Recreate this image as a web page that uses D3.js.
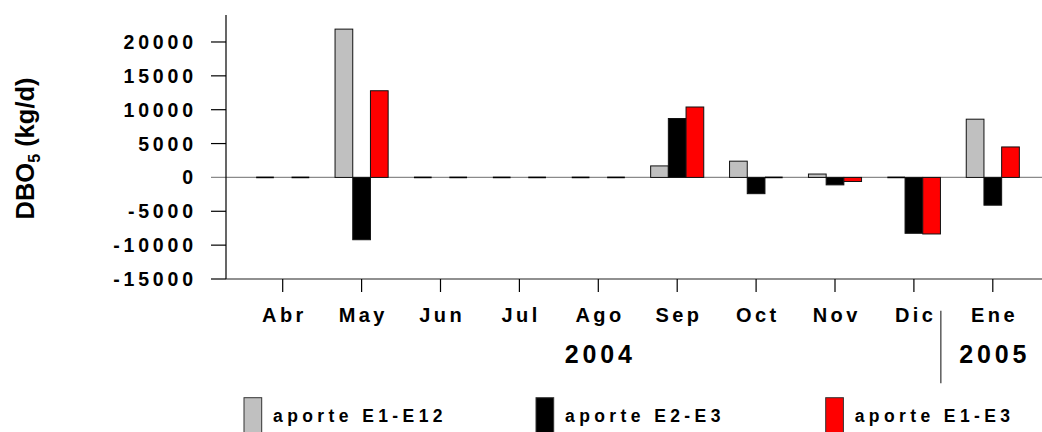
<!DOCTYPE html>
<html><head><meta charset="utf-8">
<script src="https://cdn.jsdelivr.net/npm/d3@7"></script>
<style>
html,body{margin:0;padding:0;background:#fff;}
text{font-family:"Liberation Sans",Arial,sans-serif;font-weight:bold;fill:#000;}
</style></head>
<body>
<svg id="chart" width="1042" height="432"></svg>
<script>
const months = ["Abr","May","Jun","Jul","Ago","Sep","Oct","Nov","Dic","Ene"];
const seriesNames = ["aporte E1-E12","aporte E2-E3","aporte E1-E3"];
const seriesColors = ["#c0c0c0","#000000","#ff0000"];
const e1e12 = [0, 21900, 0, 0, 0, 1700, 2400, 500, 0, 8600];
const e2e3  = [null, -9200, null, null, null, 8700, -2400, -1100, -8250, -4100];
const e1e3  = [0, 12800, 0, 0, 0, 10400, 0, -600, -8350, 4500];
const yTicks = [-15000,-10000,-5000,0,5000,10000,15000,20000];
const years = [{label:"2004", from:"Abr", to:"Dic"},{label:"2005", from:"Ene", to:"Ene"}];

const series = [e1e12, e2e3, e1e3];
const svg = d3.select("#chart");

const y = d3.scaleLinear().domain([-15000, 24000]).range([279, 14.9]);
const x = d3.scaleBand().domain(months).range([243.25, 1032.25]).padding(0);
const x1 = d3.scaleBand().domain(seriesNames).range([-26.55, 26.55]).padding(0);
const cx = m => x(m) + x.bandwidth()/2;

const axisLeft = 226;

// zero line
svg.append("line").attr("x1", 211).attr("x2", 1042)
  .attr("y1", y(0)).attr("y2", y(0))
  .attr("stroke", "#8a8a8a").attr("stroke-width", 1.2);

// bars
series.forEach((vals, si) => {
  const g = svg.append("g");
  months.forEach((m, i) => {
    const v = vals[i];
    if (v === null) return;
    const bx = cx(m) + x1(seriesNames[si]);
    const w = x1.bandwidth();
    if (v === 0) {
      g.append("line").attr("x1", bx).attr("x2", bx + w)
        .attr("y1", y(0)).attr("y2", y(0))
        .attr("stroke", "#000").attr("stroke-width", 1.6);
    } else {
      g.append("rect").attr("x", bx).attr("width", w)
        .attr("y", Math.min(y(v), y(0))).attr("height", Math.abs(y(v) - y(0)))
        .attr("fill", seriesColors[si]).attr("stroke", "#111").attr("stroke-width", 1);
    }
  });
});

// y axis
svg.append("line").attr("x1", axisLeft).attr("x2", axisLeft)
  .attr("y1", y.range()[1]).attr("y2", y.range()[0]).attr("stroke", "#000").attr("stroke-width", 1.2);
const LSY = 3.8;
yTicks.forEach(t => {
  if (t !== 0) svg.append("line").attr("x1", 211).attr("x2", axisLeft)
    .attr("y1", y(t)).attr("y2", y(t)).attr("stroke", "#000").attr("stroke-width", 1.2);
  svg.append("text").attr("x", 193 + LSY).attr("y", y(t)).attr("dy", "0.36em")
    .attr("text-anchor", "end").attr("font-size", 19.5).attr("letter-spacing", LSY)
    .text(t);
});

// x axis
svg.append("line").attr("x1", axisLeft).attr("x2", 1042)
  .attr("y1", y(-15000)).attr("y2", y(-15000)).attr("stroke", "#222").attr("stroke-width", 1.2);
const LSX = 3.4;
months.forEach(m => {
  svg.append("line").attr("x1", cx(m)).attr("x2", cx(m))
    .attr("y1", y(-15000)).attr("y2", y(-15000) + 13).attr("stroke", "#000").attr("stroke-width", 1.2);
  svg.append("text").attr("x", cx(m) + LSX/2).attr("y", 322)
    .attr("text-anchor", "middle").attr("font-size", 20).attr("letter-spacing", LSX)
    .text(m);
});

// years
years.forEach(yr => {
  const c = (cx(yr.from) + cx(yr.to)) / 2;
  svg.append("text").attr("x", c + 3.8/2).attr("y", 362.5)
    .attr("text-anchor", "middle").attr("font-size", 25).attr("letter-spacing", 3.8)
    .text(yr.label);
});
// separator between years
const sepX = (cx("Dic") + cx("Ene")) / 2 - 12.5;
svg.append("line").attr("x1", sepX).attr("x2", sepX).attr("y1", 310.7).attr("y2", 383.3)
  .attr("stroke", "#333").attr("stroke-width", 1.2);

// y title
const tt = svg.append("text").attr("transform", "translate(34,148.5) rotate(-90)")
  .attr("text-anchor", "middle").attr("font-size", 25.5);
tt.append("tspan").text("DBO");
tt.append("tspan").attr("font-size", 16).attr("dy", 6).text("5");
tt.append("tspan").attr("dy", -6).text(" (kg/d)");

// legend
const legX = [244, 536, 825.7];
seriesNames.forEach((n, i) => {
  svg.append("rect").attr("x", legX[i]).attr("y", 397.7).attr("width", 17.7).attr("height", 40)
    .attr("fill", seriesColors[i]).attr("stroke", "#333").attr("stroke-width", 1);
  svg.append("text").attr("x", legX[i] + 29).attr("y", 422.3)
    .attr("font-size", 17.5).attr("letter-spacing", 4.4).text(n);
});
</script>
</body></html>
